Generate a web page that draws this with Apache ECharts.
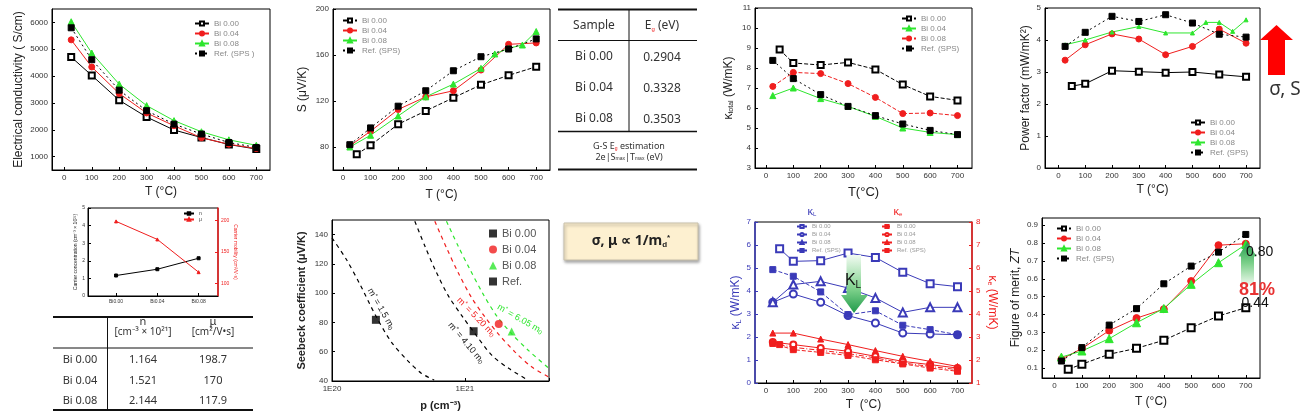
<!DOCTYPE html>
<html><head><meta charset="utf-8">
<script src="https://cdn.jsdelivr.net/npm/echarts@6/dist/echarts.min.js"></script>
<style>html,body{margin:0;padding:0;background:#fff}#c{width:1304px;height:415px}</style>
</head><body><div id="c"></div>
<script>
// ================= DATA =================
const tickT   = [0,100,200,300,400,500,600,700];
const tempsA  = [25,100,200,300,400,500,600,700];
const tempsB  = [50,100,200,300,400,500,600,700];
const tempsC  = [25,100,200,300,400,500,550,600,650,700];

// electrical conductivity (S/cm)
const sigTicks = [1000,2000,3000,4000,5000,6000];
const sigBi000 = [4710,4025,3100,2475,1990,1710,1450,1280];   // tempsA
const sigBi004 = [5350,4340,3350,2625,2150,1700,1460,1300];   // tempsA
const sigBi008 = [6025,4860,3700,2900,2340,1925,1625,1420];   // tempsA
const sigRef   = [5800,4610,3475,2710,2210,1840,1525,1340];   // tempsA

// Seebeck (uV/K)
const seeTicks = [80,120,160,200];
const seeBi000 = [73.6,81.5,99.8,111.4,122.8,134.1,142.3,149.8];          // tempsB
const seeBi004 = [81,93.7,112.6,123.6,128.9,146.9,169.3,170.5];           // tempsA
const seeBi008 = [80,90.2,107,123.6,134.7,148.4,160.9,165.8,168.7,180.4]; // tempsC
const seeRef   = [82,96.6,115.5,128.9,146.3,158.5,165.2,174];             // tempsA

// total thermal conductivity (W/mK)
const kapTicks = [3,4,5,6,7,8,9,10,11];
const kapBi000 = [8.92,8.25,8.15,8.28,7.93,7.17,6.58,6.38]; // tempsB
const kapBi004 = [6.62,7.0,6.47,6.08,5.58,5.0,4.78,4.67];   // tempsA
const kapBi008 = [7.08,7.78,7.72,7.22,6.53,5.72,5.75,5.62]; // tempsA
const kapRef   = [8.38,7.47,6.67,6.08,5.62,5.2,4.88,4.67];  // tempsA

// power factor (mW/mK^2)
const pfTicks = [0,1,2,3,4,5];
const pfBi000 = [2.56,2.63,3.04,3.01,2.98,3.0,2.92,2.85];            // tempsB
const pfBi004 = [3.37,3.85,4.19,4.03,3.54,3.8,4.34,3.9];             // tempsA
const pfBi008 = [3.85,4.0,4.25,4.42,4.22,4.22,4.55,4.55,4.27,4.63];  // tempsC
const pfRef   = [3.8,4.24,4.74,4.58,4.79,4.53,4.18,4.09];            // tempsA

// carrier concentration / mobility
const samples   = ['Bi 0.00','Bi 0.04','Bi 0.08'];
const insetCats = ['Bi0.00','Bi0.04','Bi0.08'];
const insetPos  = [1,2,3];
const carrierN  = [1.164,1.521,2.144];
const mobility  = [198.7,170,117.9];
const gapEg     = [0.2904,0.3328,0.3503];
const nTicks    = [0,1,2,3,4,5];
const muTicks   = [100,150,200];

// Pisarenko plot
const pisTicks = [40,60,80,100,120,140];
const pisNames = ['Bi 0.00','Bi 0.04','Bi 0.08','Ref.'];
const pisP = [1.164e21, 1.8e21, 2.25e21, 2.14e20];
const pisS = [74, 79, 73.9, 81.8];
const cur15P  = [1.0e20,1.28e20,1.62e20,2.13e20,2.8e20,3.74e20,4.72e20,5.88e20];
const cur15S  = [137.8,123.2,106.2,84.7,66.6,53.6,45.2,40.7];
const cur410P = [4.2e20,5.0e20,5.95e20,7.5e20,9.6e20,1.2e21,1.6e21,2.15e21,3.0e21];
const cur410S = [149.2,132.2,116.4,98.3,84,72,57.5,48.5,40.5];
const cur520P = [5.94e20,7.27e20,8.9e20,1.12e21,1.42e21,1.78e21,2.38e21,3.18e21,4.25e21];
const cur520S = [149.2,131.1,114.1,97.2,83.6,72.3,59.9,49.7,42.9];
const cur605P = [7.27e20,8.9e20,1.09e21,1.37e21,1.73e21,2.25e21,3.0e21,4.3e21];
const cur605S = [149.2,132.2,116.4,99.5,84.7,72.3,61.0,48.6];

// lattice / electronic thermal conductivity
const klTicks = [0,1,2,3,4,5,6,7];
const keTicks = [1,2,3,4,5,6,7,8];
const klBi000 = [5.84,5.29,5.32,5.65,5.46,4.81,4.32,4.19]; // tempsB
const klBi004 = [3.51,3.87,3.51,2.93,2.61,2.17,2.13,2.1];  // tempsA
const klBi008 = [3.51,4.28,4.42,4.13,3.70,3.07,3.29,3.29]; // tempsA
const klRef   = [4.93,4.64,3.96,2.97,3.14,2.51,2.32,2.1];  // tempsA
const keBi000 = [2.67,2.55,2.42,2.28,2.09,1.87,1.72,1.58]; // tempsB
const keBi004 = [2.78,2.67,2.52,2.38,2.16,1.94,1.80,1.65]; // tempsA
const keBi008 = [3.17,3.17,2.91,2.67,2.41,2.16,1.94,1.72]; // tempsA
const keRef   = [2.72,2.45,2.33,2.20,2.01,1.83,1.65,1.51]; // tempsA

// ZT
const ztTicks = [0.1,0.2,0.3,0.4,0.5,0.6,0.7,0.8,0.9];
const ztBi000 = [0.094,0.122,0.178,0.211,0.256,0.326,0.392,0.438]; // tempsB
const ztBi004 = [0.15,0.21,0.31,0.38,0.43,0.587,0.788,0.796];      // tempsA
const ztBi008 = [0.162,0.196,0.265,0.354,0.434,0.569,0.69,0.792];  // tempsA
const ztRef   = [0.14,0.215,0.341,0.433,0.572,0.671,0.749,0.848];  // tempsA

// ================= BUILD =================
const FONT = 'Liberation Sans, Arial, sans-serif';
const TFONT = 'Noto Sans, sans-serif';
const RED = '#f01e1e', GREEN = '#2ee62e', BLUE = '#3a3ab8';

const grids = [
  {left:52,   top:9,   width:218, height:161},
  {left:333,  top:9,   width:217, height:161},
  {left:755,  top:8,   width:217, height:160},
  {left:1045, top:8,   width:215, height:160},
  {left:88,   top:208, width:130, height:88},
  {left:332,  top:220, width:217, height:161},
  {left:755,  top:222, width:217, height:161},
  {left:1042, top:218, width:218, height:160}
].map(g => Object.assign({show:true, borderColor:'#000', borderWidth:1, backgroundColor:'transparent'}, g));

const xAxes = [], yAxes = [], series = [], legends = [];
const subRich = {
  k:{fontSize:12}, s:{fontSize:7, verticalAlign:'bottom', padding:[6,0,0,0]},
  i:{fontStyle:'italic', fontSize:12}
};
function axis(gi, min, max, ticks, o){
  const a = {type:'value', gridIndex:gi, min, max,
    axisLine:{show:true, onZero:false, lineStyle:{color:'#000', width:1}},
    axisTick:{show:true, inside:true, length:3, customValues:ticks, lineStyle:{color:'#000'}},
    axisLabel:{show:true, customValues:ticks, fontSize:8, color:'#333', margin:4, fontFamily:FONT, formatter:v=>String(v)},
    splitLine:{show:false}, nameLocation:'middle',
    nameTextStyle:{fontSize:12, color:'#222', fontFamily:FONT, rich:subRich}};
  if (o) {
    for (const k in o) {
      if (typeof o[k] === 'object' && !Array.isArray(o[k]) && a[k]) a[k] = Object.assign({}, a[k], o[k]);
      else a[k] = o[k];
    }
  }
  return a;
}
function addX(a){ xAxes.push(a); return xAxes.length-1; }
function addY(a){ yAxes.push(a); return yAxes.length-1; }
function pairs(xs, ys){ return xs.map((x,i)=>[x, ys[i]]); }
function line(name, xi, yi, xs, ys, color, symbol, type, o){
  return Object.assign({type:'line', name, xAxisIndex:xi, yAxisIndex:yi, data:pairs(xs,ys),
    symbol, symbolSize:6, showAllSymbol:true, color,
    itemStyle:{color, borderColor:color, borderWidth:1},
    lineStyle:{color, width:1, type}, z:3, animation:false}, o||{});
}
function leg(names, left, top, o){
  legends.push(Object.assign({data:names, left, top, orient:'vertical', padding:0, itemGap:1,
    itemWidth:14, itemHeight:5, selectedMode:false,
    textStyle:{fontSize:8, color:'#888', fontFamily:FONT, lineHeight:9},
    formatter:n=>n.split('|')[1]}, o||{}));
}
const DOT = [2,3], DASH = [4,2];

// --- (0) sigma
{
  const xi = addX(axis(0,-45,750,tickT,{name:'T (°C)', nameGap:16}));
  const yi = addY(axis(0,500,6500,sigTicks,{name:'Electrical conductivity ( S/cm)', nameGap:27}));
  const n = ['a|Bi 0.00','a|Bi 0.04','a|Bi 0.08','a|Ref. (SPS )'];
  series.push(line(n[0],xi,yi,tempsA,sigBi000,'#000','emptyRect','solid'));
  series.push(line(n[1],xi,yi,tempsA,sigBi004,RED,'circle','solid'));
  series.push(line(n[2],xi,yi,tempsA,sigBi008,GREEN,'triangle','solid'));
  series.push(line(n[3],xi,yi,tempsA,sigRef,'#000','rect',DOT));
  leg(n,194,19);
}
// --- (1) Seebeck
{
  const xi = addX(axis(1,-36,750,tickT,{name:'T (°C)', nameGap:19}));
  const yi = addY(axis(1,60,200,seeTicks,{name:'S (μV/K)', nameGap:24}));
  const n = ['b|Bi 0.00','b|Bi 0.04','b|Bi 0.08','b|Ref. (SPS)'];
  series.push(line(n[0],xi,yi,tempsB,seeBi000,'#000','emptyRect',DASH));
  series.push(line(n[1],xi,yi,tempsA,seeBi004,RED,'circle','solid'));
  series.push(line(n[2],xi,yi,tempsC,seeBi008,GREEN,'triangle','solid'));
  series.push(line(n[3],xi,yi,tempsA,seeRef,'#000','rect',DOT));
  leg(n,342,16);
}
// --- (2) kappa total
{
  const xi = addX(axis(2,-40,753,tickT,{name:'T(°C)', nameGap:18, nameTextStyle:{fontSize:13}}));
  const yi = addY(axis(2,3,11,kapTicks,{name:'{k|κ}{s|total} (W/mK)', nameGap:20}));
  const n = ['c|Bi 0.00','c|Bi 0.04','c|Bi 0.08','c|Ref. (SPS)'];
  series.push(line(n[0],xi,yi,tempsB,kapBi000,'#000','emptyRect',DASH));
  series.push(line(n[1],xi,yi,tempsA,kapBi004,GREEN,'triangle','solid'));
  series.push(line(n[2],xi,yi,tempsA,kapBi008,RED,'circle',DASH));
  series.push(line(n[3],xi,yi,tempsA,kapRef,'#000','rect',DOT));
  leg(n,901,14);
}
// --- (3) power factor
{
  const xi = addX(axis(3,-50,752,tickT,{name:'T (°C)', nameGap:16}));
  const yi = addY(axis(3,0,5,pfTicks,{name:'Power factor (mW/mK²)', nameGap:13}));
  const n = ['d|Bi 0.00','d|Bi 0.04','d|Bi 0.08','d|Ref. (SPS)'];
  series.push(line(n[0],xi,yi,tempsB,pfBi000,'#000','emptyRect','solid'));
  series.push(line(n[1],xi,yi,tempsA,pfBi004,RED,'circle','solid'));
  series.push(line(n[2],xi,yi,tempsC,pfBi008,GREEN,'triangle','solid',{symbolSize:4}));
  series.push(line(n[3],xi,yi,tempsA,pfRef,'#000','rect',DOT));
  leg(n,1190,118);
}
// --- (4) inset n / mu
{
  const xi = addX(axis(4,0.32,3.47,insetPos,{axisLabel:{fontSize:5, margin:3, formatter:v=>insetCats[Math.round(v)-1]}}));
  const yl = addY(axis(4,0,5,nTicks,{name:'Carrier concentration (cm⁻³ × 10²¹)', nameGap:5,
    nameTextStyle:{fontSize:5}, axisLabel:{fontSize:5, margin:3}}));
  const yr = addY(axis(4,80,220,muTicks,{position:'right', name:'Carrier mobility (cm²/V·s)', nameGap:9, nameRotate:-90,
    nameTextStyle:{fontSize:5, color:RED}, axisLine:{lineStyle:{color:RED, width:1.5}},
    axisTick:{lineStyle:{color:RED}}, axisLabel:{fontSize:5, margin:3, color:RED}}));
  series.push(line('e|n',xi,yl,insetPos,carrierN,'#000','rect','solid',{symbolSize:3}));
  series.push(line('e|μ',xi,yr,insetPos,mobility,RED,'triangle','solid',{symbolSize:3}));
  leg(['e|n','e|μ'],183,211,{itemWidth:10,itemHeight:3,textStyle:{fontSize:5,color:'#333',lineHeight:5}});
}
// --- (5) Pisarenko
{
  const xi = addX({type:'log', logBase:10, gridIndex:5, min:1e20, max:4.3e21,
    axisLine:{show:true,onZero:false,lineStyle:{color:'#000'}},
    axisTick:{show:true,inside:true,length:3,lineStyle:{color:'#000'}},
    axisLabel:{fontSize:8,color:'#333',margin:4,fontFamily:FONT,
      formatter:v=>Math.abs(v/1e20-1)<0.01?'1E20':(Math.abs(v/1e21-1)<0.01?'1E21':'')},
    splitLine:{show:false}, minorTick:{show:false},
    name:'p (cm⁻³)', nameLocation:'middle', nameGap:19,
    nameTextStyle:{fontSize:11, fontWeight:'bold', color:'#222', fontFamily:FONT}});
  const yi = addY(axis(5,40,150,pisTicks,{name:'Seebeck coefficient (μV/K)', nameGap:25,
    nameTextStyle:{fontSize:11, fontWeight:'bold'}}));
  const cur = (nm,P,S,c)=>({type:'line', name:nm, xAxisIndex:xi, yAxisIndex:yi, data:pairs(P,S),
    showSymbol:false, smooth:0.3, lineStyle:{color:c, width:1.2, type:[4,4]}, z:2, silent:true});
  series.push(cur('f|c1',cur15P,cur15S,'#000'));
  series.push(cur('f|c2',cur410P,cur410S,'#000'));
  series.push(cur('f|c3',cur520P,cur520S,RED));
  series.push(cur('f|c4',cur605P,cur605S,GREEN));
  const sym = ['rect','circle','triangle','rect'], col = ['#000',RED,GREEN,'#000'];
  const n = pisNames.map(s=>'f|'+s);
  pisNames.forEach((s,i)=>{
    series.push({type:'scatter', name:n[i], xAxisIndex:xi, yAxisIndex:yi, data:[[pisP[i],pisS[i]]],
      symbol:sym[i], symbolSize:8, itemStyle:{color:col[i]}, z:4});
  });
  leg(n,489,228,{itemWidth:8,itemHeight:8,itemGap:5,textStyle:{fontSize:11,color:'#555',fontFamily:FONT,lineHeight:9}});
}
// --- (6) kappa_L / kappa_e
{
  const xi = addX(axis(6,-40,753,tickT,{name:'T  (°C)', nameGap:16}));
  const yl = addY(axis(6,0,7,klTicks,{name:'{k|κ}{s|L} (W/mK)', nameGap:10,
    nameTextStyle:{color:BLUE}, axisLine:{lineStyle:{color:BLUE,width:1.5}}, axisTick:{lineStyle:{color:BLUE}},
    axisLabel:{color:BLUE}}));
  const yr = addY(axis(6,1,8,keTicks,{position:'right', name:'{k|κ}{s|e} (W/mK)', nameGap:14, nameRotate:-90,
    nameTextStyle:{color:RED}, axisLine:{lineStyle:{color:RED,width:1.5}}, axisTick:{lineStyle:{color:RED}},
    axisLabel:{color:RED}}));
  const nb = ['g|Bi 0.00','g|Bi 0.04','g|Bi 0.08','g|Ref. (SPS)'];
  const nr = ['h|Bi 0.00','h|Bi 0.04','h|Bi 0.08','h|Ref. (SPS)'];
  series.push(line(nb[0],xi,yl,tempsB,klBi000,BLUE,'emptyRect','solid',{symbolSize:7}));
  series.push(line(nb[1],xi,yl,tempsA,klBi004,BLUE,'emptyCircle','solid',{symbolSize:7}));
  series.push(line(nb[2],xi,yl,tempsA,klBi008,BLUE,'emptyTriangle','solid',{symbolSize:8}));
  series.push(line(nb[3],xi,yl,tempsA,klRef,BLUE,'rect',DASH,{symbolSize:6}));
  series.push(line(nr[0],xi,yr,tempsB,keBi000,RED,'rect',[5,2,1,2]));
  series.push(line(nr[1],xi,yr,tempsA,keBi004,RED,'emptyCircle','solid'));
  series.push(line(nr[2],xi,yr,tempsA,keBi008,RED,'triangle','solid'));
  series.push(line(nr[3],xi,yr,tempsA,keRef,RED,'rect',DASH));
  const o = {itemWidth:10,itemHeight:4,textStyle:{fontSize:6,color:'#999',fontFamily:FONT,lineHeight:7}};
  leg(nb,796,223,o); leg(nr,881,223,o);
}
// --- (7) ZT
{
  const xi = addX(axis(7,-46,752,tickT,{name:'T (°C)', nameGap:18}));
  const yi = addY(axis(7,0.045,0.94,ztTicks,{name:'Figure of merit, {i|ZT}', nameGap:20}));
  const n = ['i|Bi 0.00','i|Bi 0.04','i|Bi 0.08','i|Ref. (SPS)'];
  series.push(line(n[0],xi,yi,tempsB,ztBi000,'#000','emptyRect',DASH,{symbolSize:7}));
  series.push(line(n[1],xi,yi,tempsA,ztBi004,RED,'circle','solid',{symbolSize:7}));
  series.push(line(n[2],xi,yi,tempsA,ztBi008,GREEN,'triangle','solid',{symbolSize:8}));
  series.push(line(n[3],xi,yi,tempsA,ztRef,'#000','rect',DOT,{symbolSize:6}));
  leg(n,1056,224);
}

// ================= GRAPHICS (tables, notes) =================
const G = [];
function txt(x, y, text, st, el){
  G.push(Object.assign({type:'text', x, y, z:10, style:Object.assign({text, fill:'#333', fontSize:12,
    fontFamily:TFONT, align:'center', verticalAlign:'middle'}, st||{})}, el||{}));
}
function ln(x1,y1,x2,y2,w,c){ G.push({type:'line', z:10, shape:{x1,y1,x2,y2}, style:{stroke:c||'#111', lineWidth:w||1}}); }

// table: Eg
ln(558,9.5,697,9.5,2); ln(558,40.5,697,40.5,1); ln(629,9.5,629,131.5,1);
ln(558,131.5,697,131.5,1.5); ln(558,169.5,697,169.5,2);
txt(594,26,'Sample');
txt(662,26,'{a|E}{g|g}{a| (eV)}',{rich:{a:{fontSize:12,fontFamily:TFONT,fill:'#333'},g:{fontSize:6,fill:RED,verticalAlign:'bottom',padding:[6,0,0,0]}}});
samples.forEach((s,i)=>{ const y=[56.5,88,119][i]; txt(594,y,s); txt(662,y+1,gapEg[i].toFixed(4)); });
const fr = {a:{fontSize:9,fontFamily:TFONT,fill:'#333'},g:{fontSize:5,fill:RED,verticalAlign:'bottom',padding:[5,0,0,0]},m:{fontSize:5,fill:'#333',verticalAlign:'bottom',padding:[4,0,0,0]}};
txt(629,146,'{a|G-S E}{g|g}{a| estimation}',{rich:fr});
txt(629,157,'{a|2e|S}{m|max}{a||T}{m|max}{a| (eV)}',{rich:fr});

// table: n, mu
ln(53,317,253,317,2); ln(53,348,253,348,1); ln(107.5,317,107.5,410,1); ln(53,410,253,410,2);
txt(143,322,'n',{fontSize:11}); txt(143,332,'[cm⁻³ × 10²¹]',{fontSize:10});
txt(213,322,'μ',{fontSize:11}); txt(213,332,'[cm²/V•s]',{fontSize:10});
samples.forEach((s,i)=>{ const y=[360,380.5,401][i];
  txt(80,y,s,{fontSize:11}); txt(143,y,String(carrierN[i]),{fontSize:11}); txt(213,y,String(mobility[i]),{fontSize:11}); });

// note box
G.push({type:'rect', z:10, shape:{x:564,y:223,width:134,height:37},
  style:{fill:'#fdf0d0', stroke:'#c8c0aa', lineWidth:1, shadowBlur:3, shadowColor:'rgba(0,0,0,0.35)', shadowOffsetX:1, shadowOffsetY:2}});
txt(631,241,'{b|σ, μ ∝ 1/m}{d|d}{u|*}',{rich:{b:{fontSize:14,fontWeight:'bold',fill:'#222',fontFamily:TFONT},
  d:{fontSize:8,fontWeight:'bold',fill:'#222',verticalAlign:'bottom',padding:[7,0,0,0]},
  u:{fontSize:8,fontWeight:'bold',fill:'#222',verticalAlign:'top',padding:[0,0,7,0]}}}, {z:11});

// red arrow + sigma,S
G.push({type:'polygon', z:10, shape:{points:[[1276.5,25],[1293,40],[1285,40],[1285,75],[1268,75],[1268,40],[1260,40]]}, style:{fill:'#ff0000'}});
txt(1285,90,'σ, S',{fontSize:19, fill:'#333'});

// kappa_L arrow
G.push({type:'polygon', z:10, shape:{points:[[846.5,255],[861,255],[861,295],[868,295],[854,313],[841,295],[846.5,295]]},
  style:{fill:new echarts.graphic.LinearGradient(0,0,0,1,[{offset:0,color:'#f2fbf2'},{offset:0.6,color:'#7cd08a'},{offset:1,color:'#1f9a4a'}])}});
txt(853,281,'{k|K}{l|L}',{rich:{k:{fontSize:16,fill:'#111',fontFamily:FONT},l:{fontSize:10,fill:'#111',verticalAlign:'bottom',padding:[8,0,0,0]}}},{z:11});
txt(812,212,'{k|κ}{s|L}',{rich:{k:{fontSize:11,fill:BLUE},s:{fontSize:6,fill:BLUE,verticalAlign:'bottom',padding:[5,0,0,0]}}});
txt(898,212,'{k|κ}{s|e}',{rich:{k:{fontSize:11,fill:RED},s:{fontSize:6,fill:RED,verticalAlign:'bottom',padding:[5,0,0,0]}}});

// m* labels
function mlab(x,y,rot,val,c){
  txt(x,y,'{a|m}{u|*}{a| = '+val+' m}{d|0}',{rich:{a:{fontSize:9,fill:c,fontFamily:FONT},
    u:{fontSize:6,fill:c,verticalAlign:'top',padding:[0,0,4,0]}, d:{fontSize:6,fill:c,verticalAlign:'bottom',padding:[4,0,0,0]}}},{rotation:rot});
}
mlab(381,309,-1.05,'1.5','#222');
mlab(466,343,-0.87,'4.10','#222');
mlab(476,317,-0.8,'5.20',RED);
mlab(520,319,-0.52,'6.05',GREEN);

// ZT arrow + notes
G.push({type:'polygon', z:10, shape:{points:[[1247.5,241.5],[1256.5,256.5],[1254,256.5],[1254,285],[1241,285],[1241,256.5],[1238.5,256.5]]},
  style:{fill:new echarts.graphic.LinearGradient(0,0,0,1,[{offset:0,color:'#1f9a4a'},{offset:0.5,color:'#7cd08a'},{offset:1,color:'#eef9ee'}])}});
txt(1246,252,'0.80',{align:'left',fontSize:14,fill:'#111',fontFamily:FONT},{z:11});
txt(1241.5,303,'0.44',{align:'left',fontSize:14,fill:'#111',fontFamily:FONT},{z:11});
txt(1239,290,'81%',{align:'left',fontSize:18,fontWeight:'bold',fill:'#e83232',fontFamily:FONT},{z:11});

const chart = echarts.init(document.getElementById('c'), null, {renderer:'canvas'});
chart.setOption({
  animation:false, backgroundColor:'#fff',
  textStyle:{fontFamily:FONT},
  grid:grids, xAxis:xAxes, yAxis:yAxes, series, legend:legends, graphic:G
});
</script></body></html>
